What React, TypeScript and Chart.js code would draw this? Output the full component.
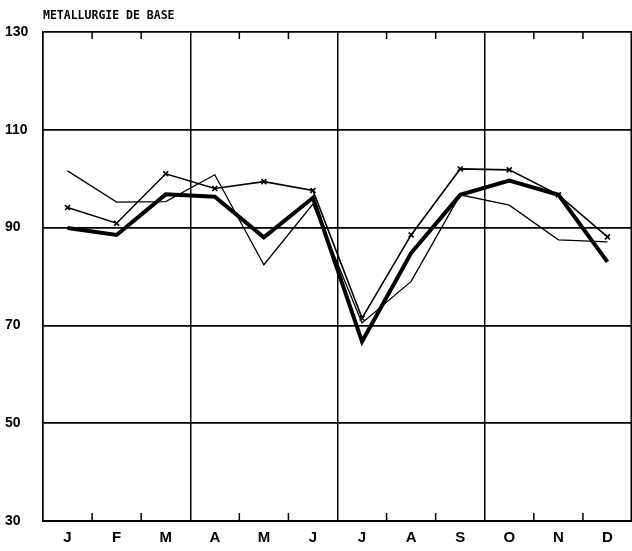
import React, { useEffect, useRef } from "react";
import { Chart, registerables } from "chart.js";

Chart.register(...registerables);

const months = ["J", "F", "M", "A", "M", "J", "J", "A", "S", "O", "N", "D"];
const thinSeries = [101.6, 95.2, 95.3, 100.8, 82.4, 94.8, 70.5, 79.0, 96.7, 94.6, 87.5, 87.1];
const crossSeries = [94.1, 90.9, 101.0, 98.0, 99.4, 97.6, 71.5, 88.5, 102.0, 101.8, 96.7, 88.1];
const thickSeries = [89.9, 88.5, 96.8, 96.3, 88.0, 96.1, 66.7, 84.8, 96.7, 99.6, 96.7, 83.0];
const yTicks = [30, 50, 70, 90, 110, 130];
const title = "METALLURGIE DE BASE";

const decorPlugin = {
  id: "decor",
  afterDraw(chart: any) {
    const { ctx, chartArea } = chart;
    const xs = chart.scales.x;
    ctx.save();
    ctx.strokeStyle = "#000";
    ctx.lineWidth = 1.5;
    for (let i = 1; i < months.length; i++) {
      if (i % 3 === 0) continue;
      const x = (xs.getPixelForValue(i - 1) + xs.getPixelForValue(i)) / 2;
      ctx.beginPath();
      ctx.moveTo(x, chartArea.bottom);
      ctx.lineTo(x, chartArea.bottom - 8);
      ctx.moveTo(x, chartArea.top);
      ctx.lineTo(x, chartArea.top + 7);
      ctx.stroke();
    }
    ctx.beginPath();
    ctx.moveTo(chartArea.right - 0.75, chartArea.top);
    ctx.lineTo(chartArea.right - 0.75, chartArea.bottom);
    ctx.stroke();
    ctx.fillStyle = "#000";
    ctx.font = "bold 11.5px 'DejaVu Sans Mono'";
    ctx.textAlign = "left";
    ctx.textBaseline = "middle";
    ctx.fillText(title, chartArea.left, 16);
    ctx.restore();
  },
};

export default function App() {
  const ref = useRef<HTMLCanvasElement>(null);
  useEffect(() => {
    document.body.style.margin = "0";
    const chart = new Chart(ref.current!, {
      type: "line",
      data: {
        labels: months,
        datasets: [
          {
            data: thinSeries,
            borderColor: "#000",
            borderWidth: 1.3,
            pointRadius: 0,
            tension: 0,
          },
          {
            data: crossSeries,
            borderColor: "#000",
            borderWidth: 1.6,
            pointRadius: 3.5,
            pointStyle: "crossRot",
            pointBorderColor: "#000",
            pointBorderWidth: 1.6,
            tension: 0,
          },
          {
            data: thickSeries,
            borderColor: "#000",
            borderWidth: 4,
            pointRadius: 0,
            tension: 0,
          },
        ],
      },
      options: {
        animation: false,
        responsive: false,
        layout: { autoPadding: false, padding: { top: 32, right: 0, left: 5, bottom: 0 } },
        plugins: { legend: { display: false }, tooltip: { enabled: false }, title: { display: false } },
        scales: {
          x: {
            type: "category",
            offset: true,
            grid: {
              offset: true,
              drawTicks: false,
              color: (c: any) => (c.index % 3 === 0 ? "#000" : "rgba(0,0,0,0)"),
              lineWidth: 1.5,
            },
            border: { display: true, color: "#000", width: 2 },
            ticks: {
              color: "#000",
              padding: 8,
              font: { family: "'Liberation Sans'", weight: "bold", size: 15 },
              maxRotation: 0,
              autoSkip: false,
            },
            afterFit: (s: any) => {
              s.height = 30;
            },
          },
          y: {
            min: 30,
            max: 130,
            afterBuildTicks: (s: any) => {
              s.ticks = yTicks.map((v) => ({ value: v }));
            },
            grid: { color: "#000", lineWidth: 1.8, drawTicks: false },
            border: { display: true, color: "#000", width: 1.5 },
            ticks: {
              color: "#000",
              crossAlign: "far",
              font: { family: "'Liberation Sans'", weight: "bold", size: 14 },
            },
            afterFit: (s: any) => {
              s.width = 38;
            },
          },
        },
      },
      plugins: [decorPlugin],
    });
    return () => chart.destroy();
  }, []);
  return <canvas ref={ref} width={632} height={551} style={{ display: "block" }} />;
}
